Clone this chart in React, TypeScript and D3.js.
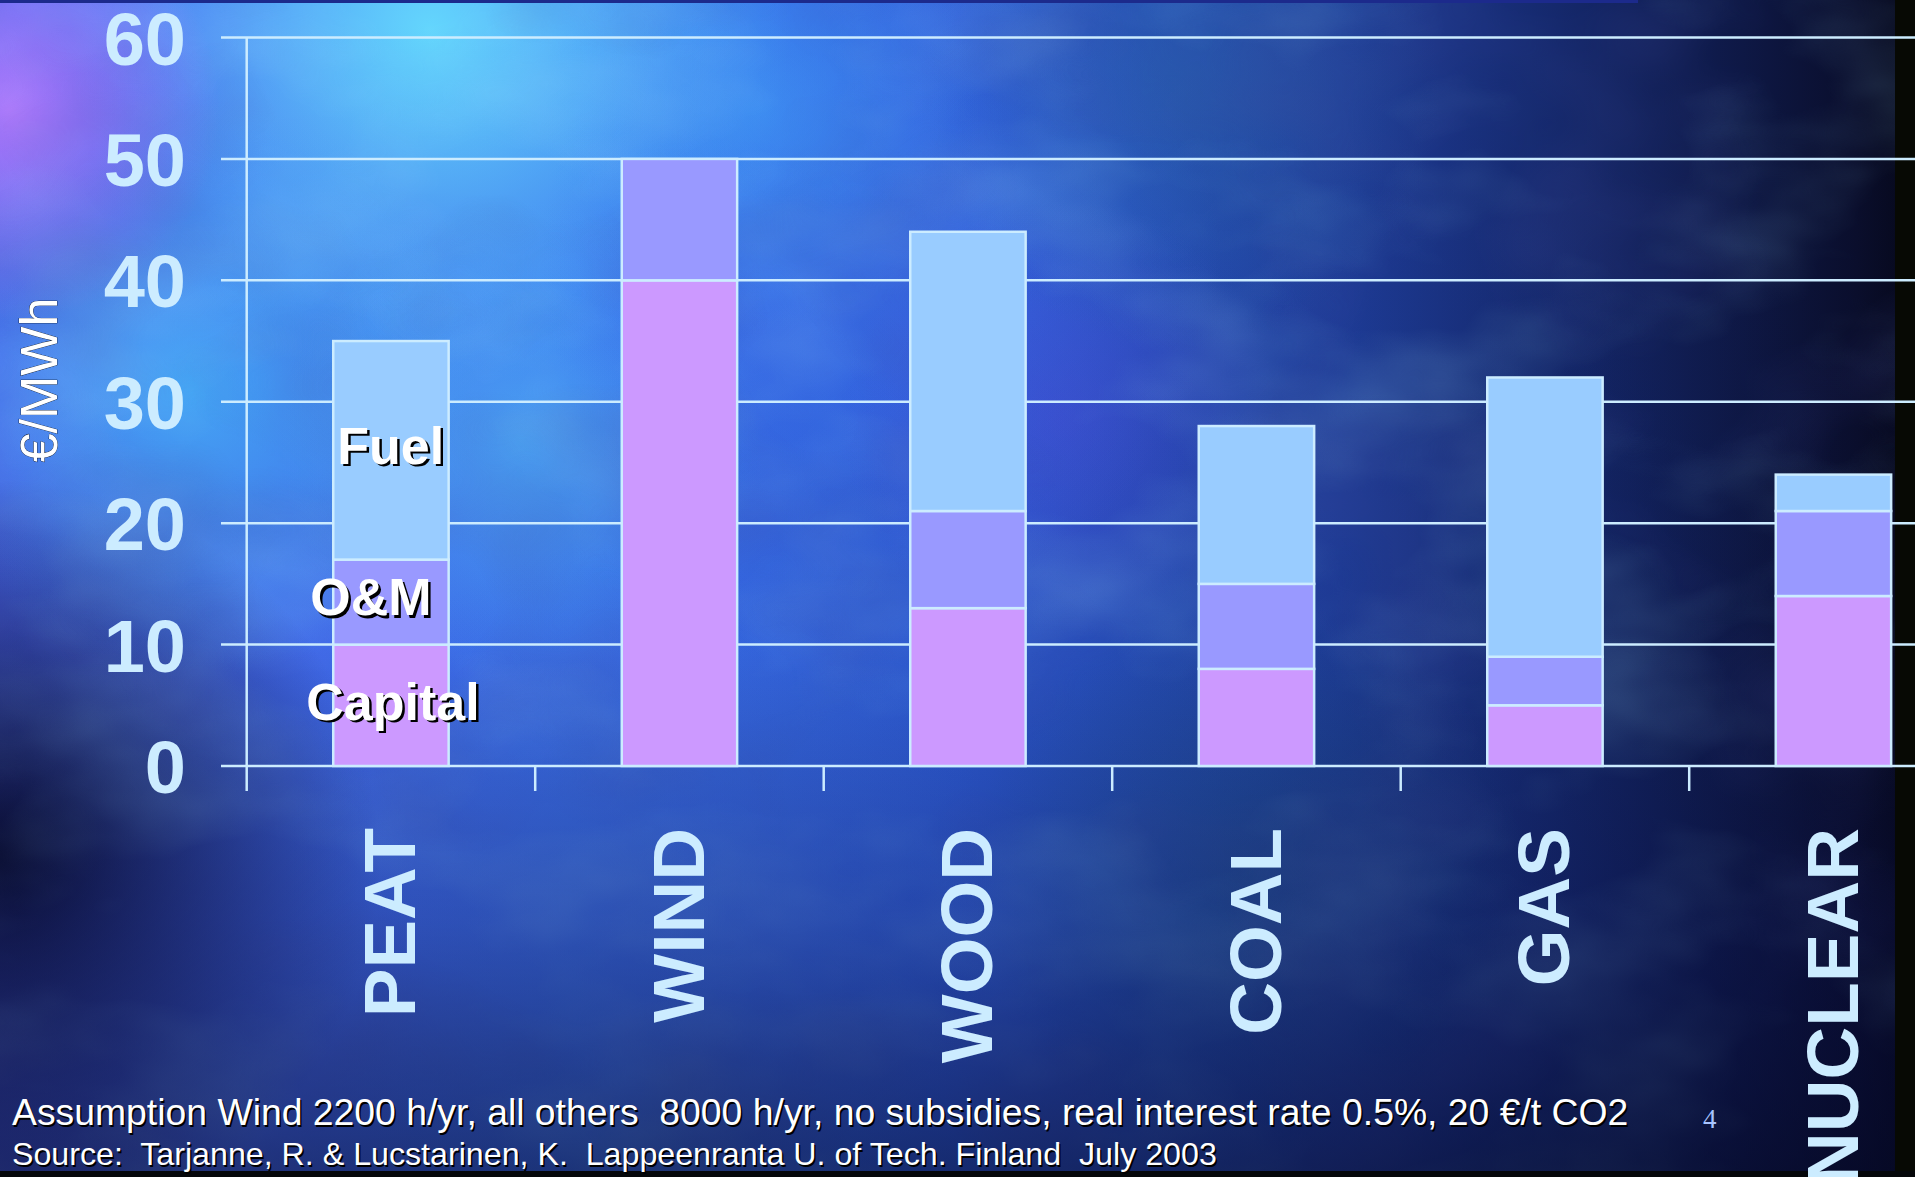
import React from "react";
import * as d3 from "d3";

// Levelised electricity generation cost components, €/MWh
const categories = ["PEAT", "WIND", "WOOD", "COAL", "GAS", "NUCLEAR"];
const capitalCost = [10, 40, 13, 8, 5, 14];
const omCost = [7, 10, 8, 7, 4, 7];
const fuelCost = [18, 0, 23, 13, 23, 3];
const seriesKeys = ["Capital", "O&M", "Fuel"];
const yTicks = [0, 10, 20, 30, 40, 50, 60];
const yAxisTitle = "€/MWh";
const footnoteLines = [
  "Assumption Wind 2200 h/yr, all others  8000 h/yr, no subsidies, real interest rate 0.5%, 20 €/t CO2",
  "Source:  Tarjanne, R. & Lucstarinen, K.  Lappeenranta U. of Tech. Finland  July 2003",
];
const pageNumber = "4";

const W = 1915;
const H = 1177;
const LINE = "#ccecff";
const SANS = "'Liberation Sans', Arial, Helvetica, sans-serif";
const COLORS: Record<string, string> = {
  Capital: "#cc99ff",
  "O&M": "#9999ff",
  Fuel: "#99ccff",
};

// soft colour glows that make up the cloudy backdrop
const glows = [
  { cx: 430, cy: 30, r: 360, color: "#6ae8ff", op: 0.85 },
  { cx: 190, cy: 390, r: 290, color: "#46c4ff", op: 0.7 },
  { cx: 520, cy: 440, r: 240, color: "#5ad4ff", op: 0.5 },
  { cx: 10, cy: 110, r: 210, color: "#c07cff", op: 0.85 },
  { cx: 880, cy: 260, r: 340, color: "#3a72f0", op: 0.6 },
  { cx: 760, cy: 110, r: 220, color: "#46b4ff", op: 0.45 },
  { cx: 1060, cy: 420, r: 220, color: "#5648e0", op: 0.35 },
  { cx: 1180, cy: 90, r: 260, color: "#2a6aa8", op: 0.45 },
  { cx: 640, cy: 900, r: 360, color: "#3a66d8", op: 0.55 },
  { cx: 1250, cy: 880, r: 280, color: "#1e5a80", op: 0.4 },
  { cx: 0, cy: 860, r: 380, color: "#03041a", op: 0.9 },
];

export default function App() {
  const y = d3.scaleLinear().domain([0, 60]).range([766, 37.5]);
  const x = d3
    .scaleBand<string>()
    .domain(categories)
    .range([246.7, 246.7 + 6 * 288.5])
    .paddingInner(0.6)
    .paddingOuter(0.3);

  const rows = categories.map((c, i) => ({
    cat: c,
    Capital: capitalCost[i],
    "O&M": omCost[i],
    Fuel: fuelCost[i],
  }));
  const stacked = d3.stack<any>().keys(seriesKeys)(rows);

  const axisX = x.range()[0];
  const step = x.step();
  const bw = x.bandwidth();
  const boundaries = d3.range(1, categories.length).map((i) => axisX + i * step);

  const peatX = x("PEAT")!;
  const seriesLabels = [
    { text: "Fuel", x: peatX + 4, v: 24.9 },
    { text: "O&M", x: peatX - 23, v: 12.4 },
    { text: "Capital", x: peatX - 27, v: 3.8 },
  ];

  return (
    <svg
      width={W}
      height={H}
      viewBox={`0 0 ${W} ${H}`}
      style={{ position: "absolute", left: 0, top: 0, display: "block" }}
    >
      <defs>
        <linearGradient id="base" x1="0" y1="0" x2="1" y2="0">
          <stop offset="0" stopColor="#4a64ee" />
          <stop offset="0.3" stopColor="#3c74f2" />
          <stop offset="0.5" stopColor="#2e5cd6" />
          <stop offset="0.7" stopColor="#1e3c98" />
          <stop offset="0.85" stopColor="#12225e" />
          <stop offset="0.97" stopColor="#0a0e2c" />
          <stop offset="1" stopColor="#06081a" />
        </linearGradient>
        <linearGradient id="shade" x1="0" y1="0" x2="0" y2="1">
          <stop offset="0" stopColor="#060a30" stopOpacity="0" />
          <stop offset="0.55" stopColor="#060a30" stopOpacity="0.05" />
          <stop offset="0.78" stopColor="#080c40" stopOpacity="0.3" />
          <stop offset="1" stopColor="#050828" stopOpacity="0.6" />
        </linearGradient>
        {glows.map((g, i) => (
          <radialGradient key={i} id={`glow${i}`}>
            <stop offset="0" stopColor={g.color} stopOpacity={g.op} />
            <stop offset="0.55" stopColor={g.color} stopOpacity={g.op * 0.45} />
            <stop offset="1" stopColor={g.color} stopOpacity="0" />
          </radialGradient>
        ))}
        <filter id="clouds" x="0" y="0" width="100%" height="100%">
          <feTurbulence type="fractalNoise" baseFrequency="0.0035 0.006" numOctaves="4" seed="7" />
          <feColorMatrix
            type="matrix"
            values="0 0 0 0 0.35  0 0 0 0 0.75  0 0 0 0 1  1.6 0 0 0 -0.72"
          />
        </filter>
        <filter id="darkClouds" x="0" y="0" width="100%" height="100%">
          <feTurbulence type="fractalNoise" baseFrequency="0.004 0.005" numOctaves="3" seed="23" />
          <feColorMatrix
            type="matrix"
            values="0 0 0 0 0.06  0 0 0 0 0.08  0 0 0 0 0.35  1.5 0 0 0 -0.7"
          />
        </filter>
      </defs>

      {/* backdrop */}
      <rect width={W} height={H} fill="url(#base)" />
      {glows.map((g, i) => (
        <circle key={i} cx={g.cx} cy={g.cy} r={g.r} fill={`url(#glow${i})`} />
      ))}
      <rect width={W} height={H} filter="url(#clouds)" opacity={0.3} />
      <rect width={W} height={H} filter="url(#darkClouds)" opacity={0.4} />
      <rect width={W} height={H} fill="url(#shade)" />
      <rect x={0} y={0} width={1638} height={3} fill="#1c2a8c" />
      <rect x={1895} y={0} width={W - 1895} height={H} fill="#070904" />
      <rect x={0} y={1171} width={W} height={H - 1171} fill="#05070a" />

      {/* gridlines with outside ticks */}
      {yTicks.map((t) => (
        <line
          key={t}
          x1={axisX - 25.7}
          x2={W}
          y1={y(t)}
          y2={y(t)}
          stroke={LINE}
          strokeWidth={2.5}
        />
      ))}
      <line x1={axisX} x2={axisX} y1={y(60)} y2={y(0) + 25} stroke={LINE} strokeWidth={2.5} />
      {boundaries.map((bx, i) => (
        <line key={i} x1={bx} x2={bx} y1={y(0)} y2={y(0) + 25} stroke={LINE} strokeWidth={2.5} />
      ))}

      {/* stacked bars */}
      {stacked.map((layer) =>
        layer.map((d, i) => {
          const h = y(d[0]) - y(d[1]);
          if (h <= 0) return null;
          return (
            <rect
              key={`${layer.key}-${i}`}
              x={x(categories[i])}
              y={y(d[1])}
              width={bw}
              height={h}
              fill={COLORS[layer.key as string]}
              stroke={LINE}
              strokeWidth={2.5}
            />
          );
        })
      )}

      {/* value axis labels */}
      {yTicks.map((t) => (
        <text
          key={t}
          x={186}
          y={y(t) + 27}
          textAnchor="end"
          fontFamily={SANS}
          fontWeight="bold"
          fontSize={74}
          fill={LINE}
        >
          {t}
        </text>
      ))}
      <text
        transform={`translate(57, 380) rotate(-90)`}
        textAnchor="middle"
        fontFamily={SANS}
        fontSize={52}
        fill="#ffffff"
        stroke="#000"
        strokeWidth={0.6}
        paintOrder="stroke"
      >
        {yAxisTitle}
      </text>

      {/* category labels */}
      {categories.map((c) => (
        <text
          key={c}
          transform={`translate(${x(c)! + bw / 2 - 2}, 828) rotate(-90)`}
          textAnchor="end"
          dy="0.36em"
          fontFamily={SANS}
          fontWeight="bold"
          fontSize={73}
          fill={LINE}
        >
          {c}
        </text>
      ))}

      {/* series labels on the first bar */}
      {seriesLabels.map((s) => (
        <g key={s.text} fontFamily={SANS} fontWeight="bold" fontSize={52}>
          <text x={s.x + 2.5} y={y(s.v) + 2.5} fill="#000">
            {s.text}
          </text>
          <text x={s.x} y={y(s.v)} fill="#ffffff">
            {s.text}
          </text>
        </g>
      ))}

      {/* notes */}
      {footnoteLines.map((t, i) => {
        const fs = i === 0 ? 37.35 : 32.2;
        const by = i === 0 ? 1125 : 1165;
        return (
          <g key={i} fontFamily={SANS} fontSize={fs}>
            <text x={13.5} y={by + 1.5} fill="#000" xmlSpace="preserve" style={{ whiteSpace: "pre" }}>
              {t}
            </text>
            <text x={12} y={by} fill="#ffffff" xmlSpace="preserve" style={{ whiteSpace: "pre" }}>
              {t}
            </text>
          </g>
        );
      })}
      <text
        x={1703}
        y={1128}
        fontFamily="'Liberation Serif', 'Times New Roman', serif"
        fontSize={27}
        fill="#a8c4ff"
      >
        {pageNumber}
      </text>
    </svg>
  );
}
